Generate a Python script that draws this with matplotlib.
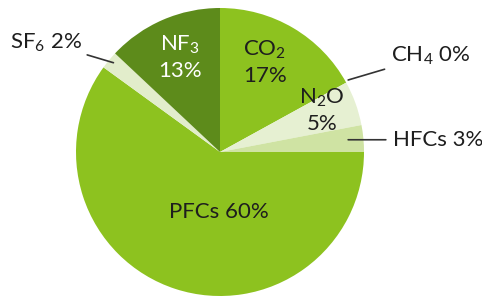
import matplotlib.pyplot as plt

plt.rcParams['font.family'] = ['Lato', 'DejaVu Sans']
plt.rcParams['mathtext.fontset'] = 'custom'
plt.rcParams['mathtext.rm'] = 'Lato'
plt.rcParams['mathtext.default'] = 'rm'

# share of emissions (%), clockwise from 12 o'clock
gases = ['CO$_2$', 'CH$_4$', 'N$_2$O', 'HFCs', 'PFCs', 'SF$_6$', 'NF$_3$']
shares = [17, 0, 5, 3, 60, 2, 13]
colors = ['#8dc21f', '#8dc21f', '#e6f0d2', '#cfe3a3', '#8dc21f', '#e2edcb', '#5d8b1b']

fig = plt.figure(figsize=(4.82, 3.03), dpi=100)
ax = fig.add_axes([76 / 482, 7 / 303, 288 / 482, 288 / 303])
ax.pie(shares, colors=colors, startangle=90, counterclock=False,
       radius=1.0, wedgeprops=dict(linewidth=0))
ax.set_xlim(-1, 1)
ax.set_ylim(-1, 1)
ax.axis('off')

dark = '#1e1e1e'
fs = 16


def label(i):
    return '%s %d%%' % (gases[i], shares[i])


def label2(i):
    return '%s\n%d%%' % (gases[i], shares[i])


# labels inside the pie
ax.text(-0.28, 0.655, label2(6), color='white', fontsize=fs,
        ha='center', va='center', linespacing=1.3)
ax.text(0.31, 0.625, label2(0), color=dark, fontsize=fs,
        ha='center', va='center', linespacing=1.3)
ax.text(0.71, 0.29, label2(2), color=dark, fontsize=fs,
        ha='center', va='center', linespacing=1.3)
ax.text(-0.01, -0.42, label(4), color=dark, fontsize=fs,
        ha='center', va='center')

# labels outside with leader lines
ax.annotate(label(5), xy=(-0.74, 0.62), xytext=(-0.96, 0.76),
            fontsize=fs, color=dark, ha='right', va='center',
            arrowprops=dict(arrowstyle='-', color='#333333', lw=1.2,
                            shrinkA=2, shrinkB=0))
ax.annotate(label(1), xy=(0.89, 0.50), xytext=(1.19, 0.67),
            fontsize=fs, color=dark, ha='left', va='center',
            arrowprops=dict(arrowstyle='-', color='#333333', lw=1.2,
                            shrinkA=3, shrinkB=0))
ax.annotate(label(3), xy=(0.89, 0.085), xytext=(1.2, 0.085),
            fontsize=fs, color=dark, ha='left', va='center',
            arrowprops=dict(arrowstyle='-', color='#333333', lw=1.2,
                            shrinkA=3, shrinkB=0))

fig.savefig('out.png', dpi=100)
